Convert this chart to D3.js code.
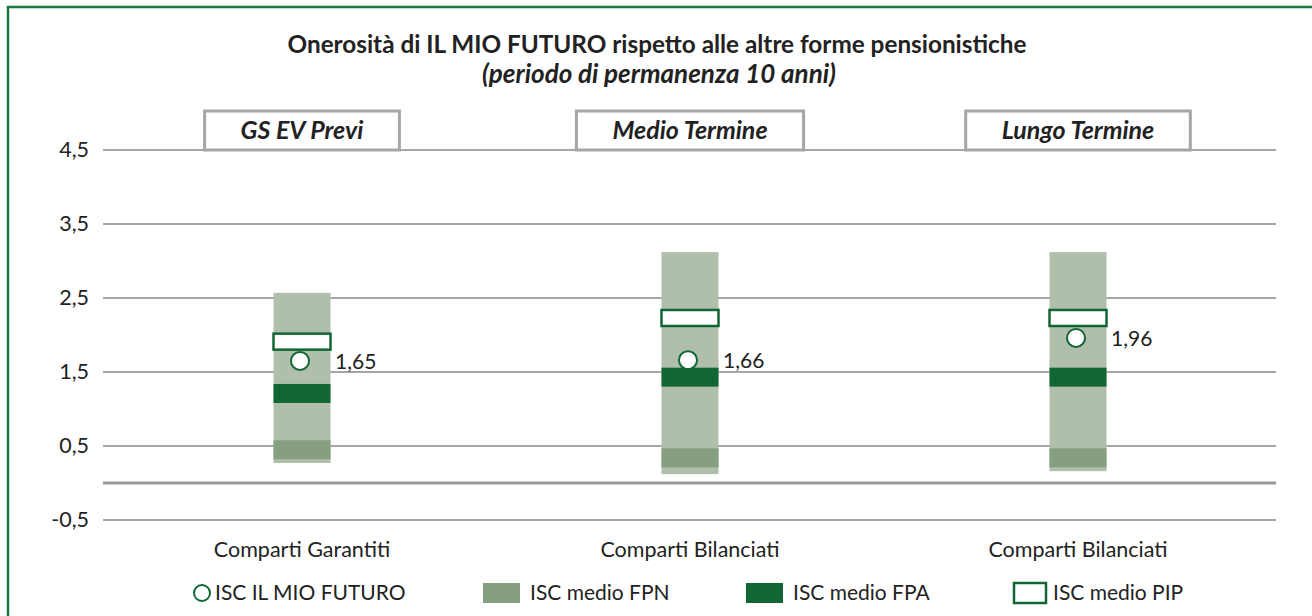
<!DOCTYPE html>
<html>
<head>
<meta charset="utf-8">
<script src="https://cdn.jsdelivr.net/npm/d3@7"></script>
<style>
  body { margin: 0; background: #fff; }
  text { font-family: Lato, "Open Sans", sans-serif; fill: #222; }
</style>
</head>
<body>
<div id="chart"></div>
<script>
// data
var categories = ["Comparti Garantiti", "Comparti Bilanciati", "Comparti Bilanciati"];
var headers = ["GS EV Previ", "Medio Termine", "Lungo Termine"];
var rangeMin = [0.27, 0.12, 0.16];
var rangeMax = [2.57, 3.12, 3.12];
var iscFPN = [0.45, 0.34, 0.34];
var iscFPA = [1.21, 1.43, 1.43];
var iscPIP = [1.91, 2.23, 2.23];
var iscMioFuturo = [1.65, 1.66, 1.96];
var yTicks = [-0.5, 0.5, 1.5, 2.5, 3.5, 4.5];
var legendLabels = ["ISC IL MIO FUTURO", "ISC medio FPN", "ISC medio FPA", "ISC medio PIP"];

// colours
var cRange = "#b0bfac", cFPN = "#86a07f", cDark = "#116634", cGrid = "#a6a6a6";

var W = 1312, H = 616;
var svg = d3.select("#chart").append("svg")
    .attr("width", W)
    .attr("height", H);

// outer green frame (right and bottom run off the picture)
svg.append("rect")
    .attr("x", 8).attr("y", 7)
    .attr("width", W + 20).attr("height", H + 20)
    .attr("fill", "none")
    .attr("stroke", "#1d7a3c")
    .attr("stroke-width", 2.5);

// title
svg.append("text")
    .attr("x", 657).attr("y", 53)
    .attr("text-anchor", "middle")
    .style("font-weight", "bold")
    .style("font-size", "24.3px")
    .text("Onerosità di IL MIO FUTURO rispetto alle altre forme pensionistiche");
svg.append("text")
    .attr("x", 659).attr("y", 83)
    .attr("text-anchor", "middle")
    .style("font-weight", "bold")
    .style("font-style", "italic")
    .style("font-size", "26px")
    .text("(periodo di permanenza 10 anni)");

// scales
var y = d3.scaleLinear().domain([-0.5, 4.5]).range([520, 150]);
var x = d3.scaleBand().domain(d3.range(categories.length)).range([108, 1272]);
var gridLeft = 103, gridRight = 1276;
var barW = 57, markH = 19;

function cx(i) { return x(i) + x.bandwidth() / 2; }
function fmt(v, f) { return d3.format(f)(v).replace("−", "-").replace(".", ","); }

// gridlines
svg.append("g").selectAll("line")
  .data(yTicks)
  .enter().append("line")
    .attr("x1", gridLeft).attr("x2", gridRight)
    .attr("y1", function(d) { return y(d); })
    .attr("y2", function(d) { return y(d); })
    .attr("stroke", cGrid)
    .attr("stroke-width", 2);

// y tick labels
svg.append("g").selectAll("text")
  .data(yTicks)
  .enter().append("text")
    .attr("x", 89)
    .attr("y", function(d) { return y(d) + 7; })
    .attr("text-anchor", "end")
    .style("font-size", "21.5px")
    .text(function(d) { return fmt(d, ".1f"); });

// category axis at zero
svg.append("line")
    .attr("x1", gridLeft).attr("x2", gridRight)
    .attr("y1", y(0)).attr("y2", y(0))
    .attr("stroke", "#999")
    .attr("stroke-width", 3);

// category labels
svg.append("g").selectAll("text")
  .data(categories)
  .enter().append("text")
    .attr("x", function(d, i) { return cx(i); })
    .attr("y", 557)
    .attr("text-anchor", "middle")
    .style("font-size", "21.5px")
    .text(function(d) { return d; });

// header boxes
var hdr = svg.append("g").selectAll("g")
  .data(headers)
  .enter().append("g");
var hdrText = hdr.append("text")
    .attr("x", function(d, i) { return cx(i); })
    .attr("y", 139)
    .attr("text-anchor", "middle")
    .style("font-weight", "bold")
    .style("font-style", "italic")
    .style("font-size", "25px")
    .text(function(d) { return d; });
hdr.insert("rect", "text")
    .attr("x", function(d, i) {
      var tw = hdrText.nodes()[i].getComputedTextLength();
      return cx(i) - tw / 2 - 36;
    })
    .attr("y", 111)
    .attr("width", function(d, i) { return hdrText.nodes()[i].getComputedTextLength() + 72; })
    .attr("height", y(4.5) - 111)
    .attr("fill", "#fff")
    .attr("stroke", cGrid)
    .attr("stroke-width", 3);

// min-max range bars
svg.append("g").selectAll("rect")
  .data(categories)
  .enter().append("rect")
    .attr("x", function(d, i) { return cx(i) - barW / 2; })
    .attr("y", function(d, i) { return y(rangeMax[i]); })
    .attr("width", barW)
    .attr("height", function(d, i) { return y(rangeMin[i]) - y(rangeMax[i]); })
    .attr("fill", cRange);

// FPN marks
svg.append("g").selectAll("rect")
  .data(iscFPN)
  .enter().append("rect")
    .attr("x", function(d, i) { return cx(i) - barW / 2; })
    .attr("y", function(d) { return y(d) - markH / 2; })
    .attr("width", barW)
    .attr("height", markH)
    .attr("fill", cFPN);

// FPA marks
svg.append("g").selectAll("rect")
  .data(iscFPA)
  .enter().append("rect")
    .attr("x", function(d, i) { return cx(i) - barW / 2; })
    .attr("y", function(d) { return y(d) - markH / 2; })
    .attr("width", barW)
    .attr("height", markH)
    .attr("fill", cDark);

// PIP marks
svg.append("g").selectAll("rect")
  .data(iscPIP)
  .enter().append("rect")
    .attr("x", function(d, i) { return cx(i) - barW / 2; })
    .attr("y", function(d) { return y(d) - 8; })
    .attr("width", barW)
    .attr("height", 16)
    .attr("fill", "#fff")
    .attr("stroke", cDark)
    .attr("stroke-width", 2.5);

// IL MIO FUTURO points + labels
svg.append("g").selectAll("circle")
  .data(iscMioFuturo)
  .enter().append("circle")
    .attr("cx", function(d, i) { return cx(i) - 2; })
    .attr("cy", function(d) { return y(d); })
    .attr("r", 9)
    .attr("fill", "#fff")
    .attr("stroke", cDark)
    .attr("stroke-width", 2);
svg.append("g").selectAll("text")
  .data(iscMioFuturo)
  .enter().append("text")
    .attr("x", function(d, i) { return cx(i) + 33; })
    .attr("y", function(d) { return y(d) + 8; })
    .style("font-size", "21px")
    .text(function(d) { return fmt(d, ".2f"); });

// legend
var legendX = [194, 483, 746, 1013];
var ly = 593;
var leg = svg.append("g").selectAll("g")
  .data(legendLabels)
  .enter().append("g")
    .attr("transform", function(d, i) { return "translate(" + legendX[i] + "," + ly + ")"; });
leg.each(function(d, i) {
  var g = d3.select(this);
  if (i === 0) {
    g.append("circle").attr("cx", 8).attr("cy", 0).attr("r", 8)
      .attr("fill", "#fff").attr("stroke", cDark).attr("stroke-width", 2);
  } else if (i === 3) {
    g.append("rect").attr("x", 1).attr("y", -10).attr("width", 32).attr("height", 20)
      .attr("fill", "#fff").attr("stroke", cDark).attr("stroke-width", 2.5);
  } else {
    g.append("rect").attr("x", 0).attr("y", -10).attr("width", 37).attr("height", 20)
      .attr("fill", i === 1 ? cFPN : cDark);
  }
  g.append("text")
    .attr("x", i === 0 ? 21 : (i === 3 ? 40 : 47))
    .attr("y", 7)
    .style("font-size", "21px")
    .text(d);
});
</script>
</body>
</html>
